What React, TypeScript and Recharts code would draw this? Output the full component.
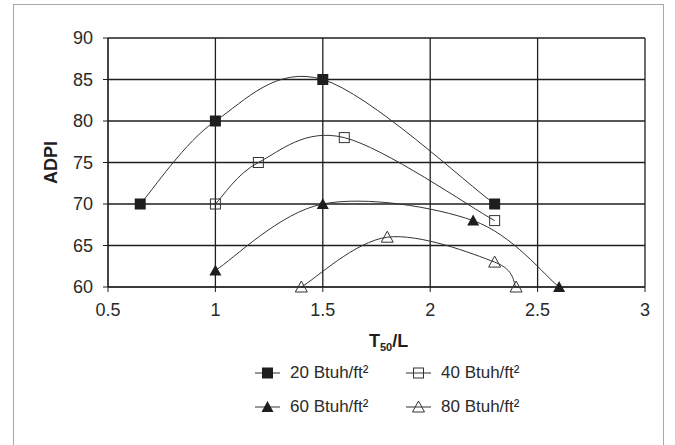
import { CartesianGrid, Label, Line, LineChart, XAxis, YAxis } from "recharts";

const xTicks = [0.5, 1, 1.5, 2, 2.5, 3];
const yTicks = [60, 65, 70, 75, 80, 85, 90];

const seriesNames = ["20 Btuh/ft²", "40 Btuh/ft²", "60 Btuh/ft²", "80 Btuh/ft²"];
const seriesMarkers = ["squareFilled", "squareOpen", "triFilled", "triOpen"];

const x20 = [0.65, 1, 1.5, 2.3];
const y20 = [70, 80, 85, 70];
const x40 = [1, 1.2, 1.6, 2.3];
const y40 = [70, 75, 78, 68];
const x60 = [1, 1.5, 2.2, 2.6];
const y60 = [62, 70, 68, 60];
const x80 = [1.4, 1.8, 2.3, 2.4];
const y80 = [60, 66, 63, 60];

const toRows = (xs: number[], ys: number[]) => xs.map((x, i) => ({ x, y: ys[i] }));
const seriesData = [toRows(x20, y20), toRows(x40, y40), toRows(x60, y60), toRows(x80, y80)];

const FONT = "'Liberation Sans', Arial, sans-serif";
const INK = "#1e1e1e";

// Excel-style smoothed line: Catmull-Rom converted to cubic beziers
function excelCurve(context: any) {
  let pts: number[][] = [];
  return {
    areaStart() {},
    areaEnd() {},
    lineStart() {
      pts = [];
    },
    point(x: number, y: number) {
      pts.push([+x, +y]);
    },
    lineEnd() {
      const n = pts.length;
      if (!n) return;
      context.moveTo(pts[0][0], pts[0][1]);
      for (let i = 0; i < n - 1; i++) {
        const p0 = pts[i - 1] || pts[i];
        const p1 = pts[i];
        const p2 = pts[i + 1];
        const p3 = pts[i + 2] || pts[i + 1];
        context.bezierCurveTo(
          p1[0] + (p2[0] - p0[0]) / 6,
          p1[1] + (p2[1] - p0[1]) / 6,
          p2[0] - (p3[0] - p1[0]) / 6,
          p2[1] - (p3[1] - p1[1]) / 6,
          p2[0],
          p2[1]
        );
      }
    },
  };
}

function marker(kind: string, cx: number, cy: number, key?: string) {
  if (kind === "squareFilled")
    return <rect key={key} x={cx - 5.5} y={cy - 5.5} width={11} height={11} fill={INK} />;
  if (kind === "squareOpen")
    return <rect key={key} x={cx - 5} y={cy - 5} width={10} height={10} fill="none" stroke="#333" strokeWidth={1} />;
  const d = `M${cx},${cy - 6}L${cx + 6},${cy + 5}L${cx - 6},${cy + 5}Z`;
  if (kind === "triFilled") return <path key={key} d={d} fill={INK} />;
  return <path key={key} d={d} fill="none" stroke="#333" strokeWidth={1} />;
}

const makeDot = (kind: string) => (props: any) => marker(kind, props.cx, props.cy, `${kind}-${props.index}`);

const XTitle = (props: any) => {
  const vb = props.viewBox;
  const cx = vb.x + vb.width / 2 + 12;
  return (
    <text x={cx} y={347} textAnchor="middle" fontFamily={FONT} fontWeight="bold" fontSize={18} fill={INK}>
      T<tspan fontSize={11} dy={4}>50</tspan>
      <tspan dy={-4}>/L</tspan>
    </text>
  );
};

export default function App() {
  return (
    <div style={{ position: "absolute", left: 0, top: 0, width: 675, height: 445, background: "#fff", overflow: "hidden" }}>
      <div
        style={{
          position: "absolute",
          left: 13,
          top: 4,
          width: 649,
          height: 460,
          border: "1.5px solid #a8a8a8",
        }}
      />
      <div style={{ position: "absolute", left: 0, top: 0 }}>
        <LineChart width={675} height={445} margin={{ top: 38, right: 30, bottom: 98, left: 0 }}>
          <CartesianGrid stroke={INK} strokeWidth={1.3} horizontalValues={yTicks} verticalValues={xTicks} />
          <XAxis
            type="number"
            dataKey="x"
            domain={[0.5, 3]}
            ticks={xTicks}
            stroke={INK}
            tickSize={5}
            tickMargin={11}
            tick={{ fill: "#2a2a2a", fontSize: 18, fontFamily: FONT }}
            height={60}
          >
            <Label content={<XTitle />} />
          </XAxis>
          <YAxis
            type="number"
            domain={[60, 90]}
            ticks={yTicks}
            stroke={INK}
            width={108}
            tickSize={5}
            tickMargin={10}
            tick={{ fill: "#2a2a2a", fontSize: 18, fontFamily: FONT }}
          >
            <Label
              value="ADPI"
              angle={-90}
              position="center"
              dx={-3}
              style={{ fontFamily: FONT, fontWeight: "bold", fontSize: 18, fill: INK }}
            />
          </YAxis>
          {seriesData.map((rows, i) => (
            <Line
              key={seriesNames[i]}
              data={rows}
              dataKey="y"
              name={seriesNames[i]}
              type={excelCurve as any}
              stroke="#333"
              strokeWidth={1}
              dot={makeDot(seriesMarkers[i])}
              activeDot={false}
              isAnimationActive={false}
            />
          ))}
        </LineChart>
      </div>
      <div
        style={{
          position: "absolute",
          left: 254,
          top: 362,
          display: "grid",
          gridTemplateColumns: "151px 151px",
          rowGap: 12,
          fontFamily: FONT,
          fontSize: 17,
          color: "#2a2a2a",
        }}
      >
        {seriesNames.map((name, i) => (
          <div key={name} style={{ display: "flex", alignItems: "center", height: 22 }}>
            <svg width={28} height={16} style={{ marginRight: 8 }}>
              <line x1={1} y1={8} x2={26} y2={8} stroke="#333" strokeWidth={1} />
              {marker(seriesMarkers[i], 13.5, 8)}
            </svg>
            <span>{name}</span>
          </div>
        ))}
      </div>
    </div>
  );
}
